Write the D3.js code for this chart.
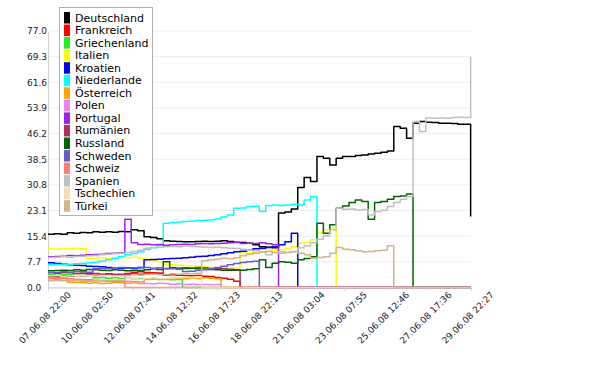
<!DOCTYPE html>
<html>
<head>
<meta charset="utf-8">
<script src="https://cdnjs.cloudflare.com/ajax/libs/d3/7.8.5/d3.min.js"></script>
<style>
    body { margin: 0; background: #fff; }
    svg text { font-family: "DejaVu Sans", Verdana, sans-serif; }
</style>
</head>
<body>
<svg id="chart" width="605" height="378"></svg>
<script>
// sampling times (every 8 hours)
const times = ['07.06.08 22:00',
    '08.06.08 06:00', '08.06.08 14:00', '08.06.08 22:00',
    '09.06.08 06:00', '09.06.08 14:00', '09.06.08 22:00',
    '10.06.08 06:00', '10.06.08 14:00', '10.06.08 22:00',
    '11.06.08 06:00', '11.06.08 14:00', '11.06.08 22:00',
    '12.06.08 06:00', '12.06.08 14:00', '12.06.08 22:00',
    '13.06.08 06:00', '13.06.08 14:00', '13.06.08 22:00',
    '14.06.08 06:00', '14.06.08 14:00', '14.06.08 22:00',
    '15.06.08 06:00', '15.06.08 14:00', '15.06.08 22:00',
    '16.06.08 06:00', '16.06.08 14:00', '16.06.08 22:00',
    '17.06.08 06:00', '17.06.08 14:00', '17.06.08 22:00',
    '18.06.08 06:00', '18.06.08 14:00', '18.06.08 22:00',
    '19.06.08 06:00', '19.06.08 14:00', '19.06.08 22:00',
    '20.06.08 06:00', '20.06.08 14:00', '20.06.08 22:00',
    '21.06.08 06:00', '21.06.08 14:00', '21.06.08 22:00',
    '22.06.08 06:00', '22.06.08 14:00', '22.06.08 22:00',
    '23.06.08 06:00', '23.06.08 14:00', '23.06.08 22:00',
    '24.06.08 06:00', '24.06.08 14:00', '24.06.08 22:00',
    '25.06.08 06:00', '25.06.08 14:00', '25.06.08 22:00',
    '26.06.08 06:00', '26.06.08 14:00', '26.06.08 22:00',
    '27.06.08 06:00', '27.06.08 14:00', '27.06.08 22:00',
    '28.06.08 06:00', '28.06.08 14:00', '28.06.08 22:00',
    '29.06.08 06:00', '29.06.08 14:00', '29.06.08 22:00'];

const xTickLabels = ['07.06.08 22:00', '10.06.08 02:50', '12.06.08 07:41', '14.06.08 12:32',
    '16.06.08 17:23', '18.06.08 22:13', '21.06.08 03:04', '23.06.08 07:55',
    '25.06.08 12:46', '27.06.08 17:36', '29.06.08 22:27'];

const yTicks = [0, 7.7, 15.4, 23.1, 30.8, 38.5, 46.2, 53.9, 61.6, 69.3, 77.0];

const countries = ['Deutschland', 'Frankreich', 'Griechenland', 'Italien', 'Kroatien', 'Niederlande',
    'Österreich', 'Polen', 'Portugal', 'Rumänien', 'Russland', 'Schweden', 'Schweiz',
    'Spanien', 'Tschechien', 'Türkei'];

const colors = ['#000000', '#ff0000', '#22ee22', '#ffff00', '#0000ff', '#00ffff',
    '#ffa500', '#ee82ee', '#a020f0', '#b03060', '#006400', '#6a5acd', '#fa8072',
    '#c0c0c0', '#f5deb3', '#d2b48c'];

const deutschland = [16.0,
    16.1, 16.0, 16.4,  16.3, 16.5, 16.4,  16.7, 16.6, 16.7,  16.6, 16.8, 16.7,
    17.3, 17.0, 15.2,  15.0, 14.6, 14.0,  13.9, 13.8, 13.7,  13.7, 13.8, 13.9,
    13.8, 13.9, 14.0,  13.8, 13.6, 13.5,  13.3, 12.8, 12.2,  12.1, 11.9, 22.4,
    22.7, 23.6, 30.0,  33.0, 31.8, 39.3,  38.8, 36.8, 38.8,  39.3, 39.3, 39.6,
    39.8, 40.1, 40.3,  40.6, 41.0, 48.3,  47.8, 44.8, 49.3,  49.8, 49.6, 49.5,
    49.3, 49.3, 49.2,  49.0, 49.0, 21.3];

const frankreich = [4.4,
    4.3, 4.5, 4.4,  4.2, 4.3, 4.1,  4.2, 4.0, 4.1,  3.9, 4.0, 4.2,
    4.6, 4.7, 4.5,  4.4, 4.3, 3.7,  3.8, 3.7, 3.6,  3.5, 3.6, 3.4,
    3.3, 3.0, 2.8,  2.5, 1.9, 0,  0, 0, 0,  0, 0, 0,
    0, 0, 0,  0, 0, 0,  0, 0, 0,  0, 0, 0,
    0, 0, 0,  0, 0, 0,  0, 0, 0,  0, 0, 0,
    0, 0, 0,  0, 0, 0];

const griechenland = [3.8,
    3.7, 3.9, 3.8,  3.6, 3.7, 3.5,  2.9, 3.0, 2.8,  2.9, 2.7, 2.8,
    2.6, 2.7, 2.5,  2.6, 2.4, 2.5,  2.3, 2.4, 0,  0, 0, 0,
    0, 0, 0,  0, 0, 0,  0, 0, 0,  0, 0, 0,
    0, 0, 0,  0, 0, 0,  0, 0, 0,  0, 0, 0,
    0, 0, 0,  0, 0, 0,  0, 0, 0,  0, 0, 0,
    0, 0, 0,  0, 0, 0];

const italien = [11.6,
    11.5, 11.7, 11.6,  11.8, 11.7, 8.8,  8.8, 8.9, 8.7,  8.8, 9.0, 8.9,
    9.1, 8.8, 8.5,  8.0, 7.7, 7.0,  6.8, 6.7, 6.6,  6.5, 6.3, 6.2,
    6.0, 5.9, 6.0,  5.9, 5.9, 10.7,  10.3, 10.4, 11.5,  11.3, 11.2, 11.3,
    11.6, 12.3, 13.3,  13.6, 14.3, 16.4,  17.3, 17.9, 0,  0, 0, 0,
    0, 0, 0,  0, 0, 0,  0, 0, 0,  0, 0, 0,
    0, 0, 0,  0, 0, 0];

const kroatien = [7.4,
    7.2, 7.0, 6.8,  6.7, 6.6, 6.4,  6.3, 6.2, 6.0,  5.9, 5.8, 5.9,
    5.8, 5.9, 8.3,  8.4, 8.5, 8.6,  8.7, 8.8, 8.9,  9.1, 9.3, 9.4,
    9.6, 9.8, 10.1,  10.4, 10.7, 10.9,  11.2, 11.6, 11.8,  12.0, 12.2, 12.8,
    13.7, 16.3, 0,  0, 0, 0,  0, 0, 0,  0, 0, 0,
    0, 0, 0,  0, 0, 0,  0, 0, 0,  0, 0, 0,
    0, 0, 0,  0, 0, 0];

const niederlande = [6.8,
    6.9, 6.8, 7.0,  7.1, 7.2, 7.4,  7.6, 7.9, 8.3,  8.8, 9.3, 9.8,
    10.2, 10.7, 11.4,  11.9, 12.6, 19.3,  19.5, 19.7, 19.8,  19.9, 20.1, 20.2,
    20.3, 20.6, 21.2,  21.8, 23.8, 23.9,  24.3, 24.4, 22.8,  24.6, 24.8, 24.6,
    24.8, 25.0, 24.8,  26.3, 27.3, 0,  0, 0, 0,  0, 0, 0,
    0, 0, 0,  0, 0, 0,  0, 0, 0,  0, 0, 0,
    0, 0, 0,  0, 0, 0];

const oesterreich = [2.6,
    2.5, 2.6, 1.6,  1.5, 1.4, 1.3,  1.4, 1.2, 1.3,  1.5, 1.4, 1.3,
    1.4, 1.2, 2.4,  2.5, 2.6, 2.4,  2.5, 2.7, 2.6,  2.8, 2.7, 2.9,
    2.8, 2.6, 0,  0, 0, 0,  0, 0, 0,  0, 0, 0,
    0, 0, 0,  0, 0, 0,  0, 0, 0,  0, 0, 0,
    0, 0, 0,  0, 0, 0,  0, 0, 0,  0, 0, 0,
    0, 0, 0,  0, 0, 0];

const polen = [3.1,
    3.0, 3.2, 2.0,  2.1, 1.9, 2.0,  2.2, 2.1, 1.9,  2.0, 1.8, 1.9,
    1.8, 1.7, 1.2,  1.1, 1.3, 1.2,  1.0, 1.1, 0.9,  1.0, 0.8, 0.9,
    0.8, 0.9, 0,  0, 0, 0,  0, 0, 0,  0, 0, 0,
    0, 0, 0,  0, 0, 0,  0, 0, 0,  0, 0, 0,
    0, 0, 0,  0, 0, 0,  0, 0, 0,  0, 0, 0,
    0, 0, 0,  0, 0, 0];

const portugal = [9.2,
    9.3, 9.4, 9.6,  9.5, 9.7, 9.8,  9.9, 10.0, 10.2,  10.3, 10.4, 20.5,
    13.4, 12.9, 13.0,  12.8, 12.9, 12.7,  12.8, 12.9, 13.0,  12.9, 13.1, 13.2,
    13.1, 13.2, 13.3,  13.4, 13.5, 13.2,  13.3, 13.2, 13.4,  13.1, 12.8, 0,
    0, 0, 0,  0, 0, 0,  0, 0, 0,  0, 0, 0,
    0, 0, 0,  0, 0, 0,  0, 0, 0,  0, 0, 0,
    0, 0, 0,  0, 0, 0];

const rumaenien = [3.4,
    3.3, 3.5, 3.4,  3.6, 3.5, 3.7,  3.6, 3.8, 3.7,  3.9, 3.8, 4.0,
    4.1, 4.0, 4.2,  4.1, 4.3, 5.6,  5.8, 5.7, 5.9,  5.8, 6.0, 5.9,
    5.7, 5.8, 5.6,  5.5, 5.2, 0,  0, 0, 0,  0, 0, 0,
    0, 0, 0,  0, 0, 0,  0, 0, 0,  0, 0, 0,
    0, 0, 0,  0, 0, 0,  0, 0, 0,  0, 0, 0,
    0, 0, 0,  0, 0, 0];

const russland = [5.0,
    5.1, 5.2, 5.1,  5.3, 5.2, 5.4,  5.3, 5.2, 5.1,  5.3, 5.2, 5.0,
    5.2, 5.1, 5.3,  5.6, 5.4, 7.7,  5.9, 5.8, 5.7,  5.8, 5.6, 5.5,
    5.4, 5.3, 5.2,  5.2, 5.3, 5.2,  5.4, 5.6, 8.3,  6.0, 7.3, 7.7,
    7.6, 7.3, 8.3,  8.7, 9.2, 19.3,  16.3, 18.8, 23.8,  24.5, 25.5, 26.3,
    25.8, 20.5, 25.5,  25.8, 26.5, 27.3,  27.5, 28.1, 0,  0, 0, 0,
    0, 0, 0,  0, 0, 0];

const schweden = [4.6,
    4.5, 4.7, 4.6,  4.8, 4.7, 4.6,  5.6, 5.8, 5.7,  5.9, 6.0, 5.8,
    5.9, 6.1, 6.0,  5.8, 5.9, 5.7,  5.6, 5.5, 4.8,  4.9, 5.1, 5.3,
    5.6, 6.0, 6.4,  6.8, 7.2, 7.5,  7.7, 7.9, 0,  0, 0, 0,
    0, 0, 0,  0, 0, 0,  0, 0, 0,  0, 0, 0,
    0, 0, 0,  0, 0, 0,  0, 0, 0,  0, 0, 0,
    0, 0, 0,  0, 0, 0];

const schweiz = [2.8,
    2.7, 2.9, 2.6,  2.5, 2.4, 2.3,  2.1, 2.0, 1.9,  1.8, 1.7, 0,
    0, 0, 0,  0, 0, 0,  0, 0, 0,  0, 0, 0,
    0, 0, 0,  0, 0, 0,  0, 0, 0,  0, 0, 0,
    0, 0, 0,  0, 0, 0,  0, 0, 0,  0, 0, 0,
    0, 0, 0,  0, 0, 0,  0, 0, 0,  0, 0, 0,
    0, 0, 0,  0, 0, 0];

const spanien = [9.0,
    9.1, 9.2, 9.1,  9.3, 9.4, 9.5,  9.6, 9.8, 10.0,  10.1, 10.3, 10.5,
    10.8, 11.2, 11.8,  12.0, 12.1, 12.2,  12.3, 12.2, 12.4,  12.3, 12.2, 12.1,
    12.0, 12.1, 11.9,  11.8, 11.7, 11.5,  11.2, 11.0, 10.6,  9.8, 10.4, 10.7,
    10.6, 10.8, 11.9,  12.5, 13.4, 14.5,  15.5, 17.3, 23.8,  23.5, 23.6, 23.3,
    23.4, 21.8, 22.8,  23.2, 24.3, 25.5,  26.5, 27.3, 49.8,  46.8, 50.9, 50.8,
    50.9, 50.8, 51.0,  51.1, 51.0, 69.3];

const tschechien = [3.5,
    3.6, 3.4, 3.5,  3.7, 3.6, 3.5,  3.4, 3.6, 3.5,  3.3, 3.4, 2.6,
    2.7, 2.5, 2.8,  2.9, 2.7, 2.8,  3.0, 2.9, 3.1,  3.0, 3.2, 0,
    0, 0, 0,  0, 0, 0,  0, 0, 0,  0, 0, 0,
    0, 0, 0,  0, 0, 0,  0, 0, 0,  0, 0, 0,
    0, 0, 0,  0, 0, 0,  0, 0, 0,  0, 0, 0,
    0, 0, 0,  0, 0, 0];

const tuerkei = [2.0,
    2.1, 2.0, 2.2,  2.1, 2.0, 1.9,  2.0, 2.1, 2.0,  2.2, 2.1, 3.6,
    3.8, 3.7, 3.9,  4.0, 3.8, 3.9,  4.1, 4.0, 4.2,  4.1, 4.3, 8.0,
    8.3, 8.5, 8.8,  8.6, 8.9, 9.5,  10.0, 10.3, 10.6,  10.8, 10.5, 10.3,
    10.5, 10.7, 10.3,  9.8, 8.8, 9.0,  9.2, 10.3, 12.0,  11.5, 11.3, 11.0,
    10.7, 10.8, 11.0,  11.2, 12.5, 0,  0, 0, 0,  0, 0, 0,
    0, 0, 0,  0, 0, 0];

const seriesValues = [deutschland, frankreich, griechenland, italien, kroatien, niederlande,
    oesterreich, polen, portugal, rumaenien, russland, schweden, schweiz,
    spanien, tschechien, tuerkei];

const parseTime = d3.timeParse('%d.%m.%y %H:%M');
const dates = times.map(parseTime);
const tickDates = xTickLabels.map(parseTime);

let svg = d3.select('#chart');

let x = d3.scaleTime()
          .domain([tickDates[0], tickDates[tickDates.length - 1]])
          .range([48, 471]);

let y = d3.scaleLinear()
          .domain([0, 77])
          .range([287.5, 31]);

// grid
svg.append('g')
    .selectAll('line')
    .data(yTicks)
    .enter()
    .append('line')
    .attr('x1', 48)
    .attr('x2', 471)
    .attr('y1', d => y(d))
    .attr('y2', d => y(d))
    .attr('stroke', '#ededed')
    .attr('stroke-width', 1);

// y axis
let yAxis = svg.append('g')
    .attr('transform', 'translate(48,0)')
    .call(d3.axisLeft(y).tickValues(yTicks).tickFormat(d3.format('.1f')).tickSize(0));
yAxis.select('.domain').attr('stroke', '#d0d0d0');
yAxis.selectAll('text')
    .attr('x', -21)
    .attr('text-anchor', 'start')
    .attr('fill', '#222')
    .style('font-family', '"DejaVu Sans", Verdana, sans-serif')
    .style('font-size', '9px');

// lines
let line = d3.line()
    .x((d, i) => x(dates[i]))
    .y(d => y(d))
    .curve(d3.curveStepAfter);

svg.append('g')
    .selectAll('path')
    .data(seriesValues)
    .enter()
    .append('path')
    .attr('d', d => line(d))
    .attr('fill', 'none')
    .attr('stroke', (d, i) => colors[i])
    .attr('stroke-width', 1.5)
    .attr('stroke-linejoin', 'round');

// x axis
let xAxis = svg.append('g')
    .attr('transform', 'translate(0,287.5)')
    .call(d3.axisBottom(x).tickValues(tickDates).tickFormat(d3.timeFormat('%d.%m.%y %H:%M')).tickSize(3));
xAxis.select('.domain').attr('stroke', '#d0d0d0');
xAxis.selectAll('line').attr('stroke', '#d0d0d0');
xAxis.selectAll('text')
    .attr('x', 0)
    .attr('y', 0)
    .attr('dy', 0)
    .attr('transform', 'translate(23,8) rotate(-45)')
    .attr('text-anchor', 'end')
    .attr('fill', '#222')
    .style('font-family', '"DejaVu Sans", Verdana, sans-serif')
    .style('font-size', '9px');

// legend
let legend = svg.append('g');

legend.append('rect')
    .attr('x', 59.5)
    .attr('y', 7.5)
    .attr('width', 93)
    .attr('height', 208)
    .attr('fill', '#fff')
    .attr('stroke', '#b0b0b0');

let items = legend.selectAll('.item')
    .data(countries)
    .enter()
    .append('g')
    .attr('class', 'item')
    .attr('transform', (d, i) => `translate(0,${17.5 + i * 12.55})`);

items.append('rect')
    .attr('x', 64)
    .attr('y', -5.5)
    .attr('width', 6)
    .attr('height', 11.5)
    .attr('fill', (d, i) => colors[i]);

items.append('text')
    .attr('x', 75)
    .attr('y', 4)
    .style('font-size', '11px')
    .attr('fill', '#000')
    .text(d => d);
</script>
</body>
</html>
